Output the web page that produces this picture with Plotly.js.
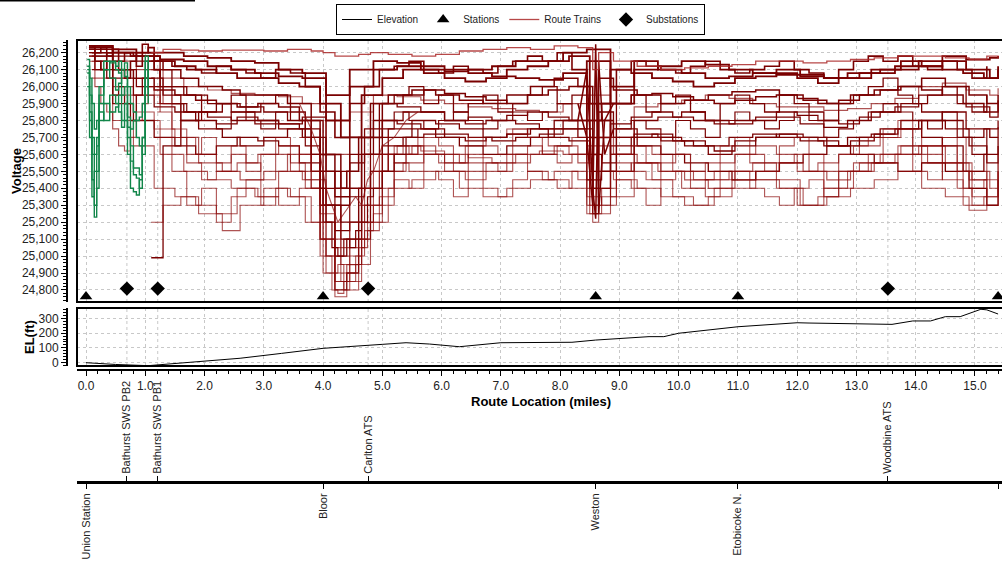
<!DOCTYPE html>
<html>
<head>
<meta charset="utf-8">
<script src="https://cdn.plot.ly/plotly-3.0.1.min.js"></script>
<style>html,body{margin:0;padding:0;background:#fff;}#chart{width:1002px;height:567px;}</style>
</head>
<body>
<div id="chart"></div>
<script>
// ---------- Stations & substations ----------
const stationNames = ["Union Station", "Bloor", "Weston", "Etobicoke N.", "Airport Platform"];
const stationMiles = [0.0, 4.0, 8.6, 11.0, 15.39];
const stationMarkerV = [24762, 24762, 24762, 24762, 24762];
const substationNames = ["Bathurst SWS PB2", "Bathurst SWS PB1", "Carlton ATS", "Woodbine ATS"];
const substationMiles = [0.69, 1.21, 4.76, 13.53];
const substationMarkerV = [24808, 24808, 24808, 24808];

// ---------- Elevation profile ----------
const elevMiles = [0, 0.5, 1.05, 1.3, 2.2, 2.6, 3.3, 3.6, 4.0, 5.0, 5.4, 5.8, 6.3, 7.0, 8.2, 8.6, 9.5, 9.75, 10.0, 11.0, 12.0, 12.2, 13.6, 13.95, 14.25, 14.5, 14.75, 15.1, 15.2, 15.39];
const elevFt    = [0, -12, -20, -12, 13, 30, 63, 79, 97, 124, 135, 126, 108, 135, 138, 153, 176, 176, 199, 243, 270, 268, 259, 282, 282, 311, 311, 361, 357, 329];

// ---------- Route train voltage traces ----------
const gridA = [0.05,0.45,0.85,1.25,1.65,2.05,2.45,2.85,3.25,3.65,4.05,4.45,4.85,5.25,5.65,6.05,6.45,6.85,7.25,7.65,8.05,8.45,8.85,9.25,9.65,10.05,10.45,10.85,11.25,11.65,12.05,12.45,12.85,13.25,13.65,14.05,14.45,14.85,15.25,15.39];
const trainR1 = [26230,26200,26180,26160,26150,26120,26100,26080,26060,26050,25950,26100,26150,26140,26120,26100,26080,26060,26050,26040,26080,26150,26000,26100,26120,26150,26130,26100,26080,26070,26060,26050,26080,26100,26120,26150,26180,26160,26170,26180];
const trainR2 = [26200,26150,26100,26050,26000,25980,25960,25950,25940,25900,25600,25850,25950,25940,25920,25900,25880,25870,25860,25850,25900,25950,25700,25880,25900,25920,25950,25930,25900,25880,25880,25860,25870,25900,25930,26000,26020,25980,25950,25990];
const trainR3 = [26180,26100,26000,25900,25850,25820,25800,25780,25750,25700,25300,25600,25800,25780,25750,25720,25700,25680,25700,25720,25750,25800,25500,25720,25700,25680,25650,25700,25720,25700,25680,25650,25700,25720,25750,25800,25850,25750,25700,25760];
const trainR4 = [26150,25950,25800,25600,25500,25450,25400,25350,25500,25450,25000,25200,25600,25650,25620,25600,25580,25550,25600,25620,25600,25650,25350,25550,25500,25400,25450,25500,25550,25450,25300,25400,25500,25550,25600,25650,25700,25500,25400,25550];
const trainR5 = [26220,26180,26150,26000,25950,25900,25850,25800,25780,25820,25500,25700,25900,25880,25850,25800,25820,25800,25780,25750,25800,25900,25600,25800,25820,25850,25800,25780,25800,25820,25780,25760,25800,25850,25880,25950,26000,25880,25820,25900];
const trainR6 = [26240,26220,26200,26200,26180,26170,26150,26140,26100,26080,25800,26000,26100,26120,26100,26090,26100,26120,26150,26150,26200,26220,25900,26150,26100,26080,26050,26060,26080,26100,26070,26050,26050,26080,26100,26120,26150,26100,26050,26120];

const gridB = [0.1,0.45,0.8,1.15,1.5,1.85,2.2,2.55,2.9,3.25,3.6,3.95,4.3,4.65,5.0,5.35,5.7,6.05,6.4,6.75,7.1,7.45,7.8,8.15,8.5,8.85,9.2,9.55,9.9,10.25,10.6,10.95,11.3,11.65,12.0,12.35,12.7,13.05,13.4,13.75,14.1,14.45,14.8,15.15,15.39];
const trainR7 = [26100,25900,25800,25700,25650,25600,25650,25700,25680,25650,25550,25300,25100,25400,25650,25700,25720,25700,25680,25700,25720,25750,25700,25680,25400,25650,25700,25720,25680,25650,25620,25680,25700,25720,25700,25680,25650,25700,25750,25800,25700,25650,25500,25600,25650];
const trainR8 = [26050,25800,25650,25400,25350,25300,25250,25400,25350,25300,25400,25100,24850,25200,25500,25550,25600,25500,25450,25550,25600,25500,25450,25400,25250,25500,25550,25450,25350,25300,25400,25500,25450,25400,25300,25350,25500,25550,25600,25650,25550,25450,25300,25350,25500];
const trainR9 = [26200,26100,26050,25980,25950,25920,25900,25880,25900,25880,25800,25600,25400,25700,25900,25950,25980,25960,25940,25920,25900,25950,25980,26000,25700,25900,25950,25960,25940,25920,25900,25920,25940,25950,25930,25900,25920,25950,25980,26000,25980,25950,25900,25850,25920];
const trainR10 = [26240,26200,26180,26150,26120,26100,26080,26050,26050,26020,26000,25900,25700,25950,26050,26100,26080,26050,26030,26050,26100,26120,26150,26180,25900,26100,26080,26050,26030,26000,26020,26050,26060,26080,26050,26020,26050,26080,26100,26150,26120,26100,26080,26050,26100];
const trainR11 = [26150,26000,25850,25750,25700,25600,25500,25550,25600,25650,25500,25200,24950,25300,25600,25650,25600,25550,25650,25700,25750,25700,25650,25600,25300,25600,25650,25600,25500,25450,25500,25600,25650,25600,25500,25550,25600,25650,25700,25750,25650,25550,25400,25450,25600];
const trainR12 = [26180,26050,25950,25880,25850,25800,25780,25820,25800,25780,25750,25500,25200,25600,25800,25850,25850,25800,25780,25800,25830,25850,25820,25800,25500,25780,25820,25850,25820,25800,25780,25800,25820,25850,25830,25800,25780,25820,25850,25900,25850,25800,25700,25750,25800];

const gridC = [1.1,1.3,1.6,1.9,2.3,2.6,3.0,3.4,3.8,4.0,4.2,4.4,4.6,4.8,5.1,5.5,5.9,6.3,6.7,7.1,7.5,7.9,8.3,8.55,8.65,8.9,9.3,9.7,10.1,10.5,10.9,11.3,11.7,12.1,12.5,12.9,13.3,13.7,14.1,14.5,14.9,15.2,15.39];
const trainR13 = [24990,25650,25800,25850,25900,25880,25850,25800,25600,25200,24800,24900,25100,25500,25700,25750,25700,25650,25600,25650,25700,25750,25700,25250,25800,25700,25650,25600,25550,25500,25450,25500,25550,25600,25650,25600,25550,25500,25550,25500,25400,25300,25450];
const trainR14 = [25200,25300,25350,25250,25150,25300,25400,25350,25200,24900,24760,24800,24950,25200,25400,25450,25500,25400,25350,25400,25450,25500,25450,25200,25500,25450,25400,25350,25300,25350,25400,25450,25400,25300,25350,25400,25450,25500,25400,25350,25270,25300,25400];
const trainR15 = [26200,26220,26215,26210,26215,26215,26210,26220,26210,26200,26180,26180,26190,26200,26190,26180,26190,26210,26220,26230,26220,26240,26230,26100,26200,26150,26120,26100,26110,26120,26130,26150,26150,26140,26150,26160,26170,26180,26180,26170,26160,26180,26170];
const trainR16 = [26100,25900,25700,25550,25500,25450,25500,25600,25400,25100,24850,24950,25300,25500,25600,25650,25600,25550,25500,25550,25600,25650,25550,25300,25700,25600,25550,25500,25450,25400,25450,25500,25550,25500,25450,25500,25550,25600,25650,25550,25450,25350,25500];
const trainR17 = [26150,26100,26050,26000,25980,25950,25950,25900,25800,25600,25400,25500,25700,25900,25950,25980,25950,25920,25900,25950,26000,26050,26000,25600,26050,25980,25950,25900,25920,25950,25970,25980,25950,25920,25900,25950,25980,26000,26050,26000,25950,25900,25950];
const trainR18 = [26050,25950,25800,25750,25700,25650,25700,25750,25500,25300,25000,25100,25400,25700,25750,25800,25780,25750,25700,25720,25750,25800,25750,25400,25850,25750,25700,25680,25650,25600,25650,25700,25720,25700,25650,25680,25720,25750,25800,25750,25650,25550,25700];

const gridF = [1.2,1.45,1.7,1.95,2.2,2.45,2.7,2.95,3.2,3.45,3.7,3.95,4.2,4.45,4.7,4.95,5.2,5.45,5.7,5.95,6.2,6.45,6.7,6.95,7.2,7.45,7.7,7.95,8.2,8.45,8.7,8.95,9.2,9.45,9.7,9.95,10.2,10.45,10.7,10.95,11.2,11.45,11.7,11.95,12.2,12.45,12.7,12.95,13.2,13.45,13.7,13.95,14.2,14.45,14.7,14.95,15.2];
const trainF1 = [25900,25750,25600,25700,25550,25650,25500,25600,25700,25550,25400,25100,24900,25050,25300,25500,25650,25600,25700,25650,25550,25700,25650,25600,25750,25700,25600,25650,25700,25350,25300,25600,25650,25550,25700,25600,25500,25550,25650,25700,25600,25550,25650,25700,25600,25500,25600,25650,25700,25750,25800,25650,25600,25700,25550,25450,25600];
const trainF2 = [26100,26000,25950,25850,25900,25950,25850,25900,25950,25850,25700,25500,25350,25550,25750,25900,25950,26000,25900,25950,25850,25900,25950,25850,25900,25950,26000,25900,25950,25600,25500,25900,25950,25850,25900,25950,25850,25800,25900,25950,25900,25850,25950,25900,25850,25800,25900,25950,26000,26050,25950,25900,25950,26000,25900,25850,25950];
const trainF3 = [25700,25500,25300,25400,25200,25350,25450,25300,25400,25350,25200,25000,24850,25000,25150,25350,25450,25400,25500,25450,25350,25500,25400,25350,25450,25500,25450,25400,25500,25250,25350,25450,25400,25300,25450,25500,25400,25350,25450,25500,25400,25350,25300,25400,25450,25350,25400,25500,25550,25600,25650,25500,25450,25550,25400,25300,25350];
const trainF4 = [26150,26120,26100,26080,26120,26100,26080,26050,26100,26080,26000,25850,25700,25900,26000,26100,26120,26150,26100,26080,26120,26100,26080,26120,26150,26180,26150,26200,26100,25800,25900,26100,26150,26120,26100,26080,26120,26150,26100,26080,26100,26120,26150,26100,26080,26050,26100,26150,26180,26150,26180,26120,26100,26150,26100,26050,26120];
const trainF5 = [26000,25900,25850,25800,25750,25850,25800,25750,25850,25800,25650,25400,25150,25350,25600,25750,25850,25800,25750,25800,25850,25800,25750,25800,25850,25800,25850,25900,25800,25450,25550,25750,25800,25750,25700,25800,25750,25700,25800,25850,25800,25750,25800,25850,25800,25700,25750,25800,25850,25900,25850,25800,25750,25850,25700,25600,25750];
const trainF6 = [25850,25700,25550,25450,25500,25600,25550,25450,25600,25500,25450,25250,25050,25200,25400,25600,25550,25500,25600,25550,25500,25600,25550,25500,25600,25650,25600,25550,25600,25300,25400,25550,25500,25450,25550,25600,25500,25450,25550,25600,25550,25500,25550,25600,25500,25400,25500,25550,25600,25700,25750,25600,25550,25650,25500,25350,25500];

const gridH = [0.05,0.15,0.25,0.35,0.45,0.55,0.65,0.75,0.85,0.95,1.05,1.15,1.25];
const earlyH1 = [26240,26200,26230,26180,26220,26150,26200,26180,26120,26200,26230,26180,26150];
const earlyH2 = [26200,26100,26150,26050,25950,26000,25900,25800,25950,26050,26150,26100,26000];
const earlyH3 = [26180,26000,25900,25850,25750,25650,25620,25700,25800,25900,26000,25950,25850];
const earlyH4 = [26230,26150,26100,26200,26150,26100,26050,26150,26200,26250,26200,26100,26050];

const gridD = [3.6,3.8,3.95,4.05,4.15,4.25,4.35,4.45,4.55,4.65,4.75,4.85,5.0,5.2,5.4,5.6];
const dipD1 = [25700,25500,25300,25000,24800,24780,24850,24900,24950,25100,25200,25250,25300,25500,25600,25700];
const dipD2 = [25600,25400,25100,24900,24900,24950,24800,24850,25000,25050,25150,25300,25400,25550,25600,25650];
const dipD3 = [25800,25600,25400,25200,25050,25000,25100,25050,25150,25200,25350,25400,25500,25600,25700,25750];
const dipD4 = [25900,25750,25600,25400,25300,25200,25250,25300,25350,25300,25450,25500,25650,25700,25800,25850];

const gridE = [8.3,8.45,8.55,8.6,8.65,8.75,8.9];
const spikeE1 = [25900,25700,25300,26250,25250,25800,25900];
const spikeE2 = [25800,26100,25400,25220,26150,25600,25750];

// ---------- Green (early) train traces ----------
const gridG = [0.02,0.06,0.1,0.14,0.18,0.22,0.3,0.4,0.5,0.55,0.6,0.65,0.7,0.75,0.8,0.85,0.9,0.95,1.0,1.05];
const greenG1 = [26120,25800,25450,25230,25500,25950,26100,26050,25980,26020,26100,26060,25700,25560,25480,25460,25400,25700,26180,26000];
const greenG2 = [26100,25950,25700,25600,25650,25900,26150,26140,26100,26080,25950,26000,25820,25750,25800,25700,25650,25600,26100,25980];
const greenG3 = [26080,25850,25600,25300,25400,25800,25900,25850,25880,25950,25800,25900,25600,25400,25380,25360,25450,25700,26050,25950];
const greenG4 = [26000,25700,25350,25500,25700,25850,25800,25950,25900,25850,25760,25800,25760,25650,25520,25520,25480,25650,26000,25900];
const greenG5 = [26160,26050,25900,25750,25800,26000,26100,26150,26120,26150,26100,26140,26000,25900,25850,25800,25820,25900,26150,26050];

// ---------- Build traces ----------
const FONT = "Arial, 'Liberation Sans', sans-serif";
const DARK = "#7a0000";
const LIGHT = "rgba(140,10,10,0.7)";
const redSets = [
  [gridA, trainR1, DARK, 1.8, 'hv'], [gridA, trainR2, LIGHT, 1.2, 'hv'], [gridA, trainR3, DARK, 1.3, 'hv'],
  [gridA, trainR4, LIGHT, 1.1, 'hv'], [gridA, trainR5, DARK, 1.3, 'hv'], [gridA, trainR6, DARK, 1.8, 'hv'],
  [gridB, trainR7, DARK, 1.3, 'hv'], [gridB, trainR8, LIGHT, 1.1, 'hv'], [gridB, trainR9, DARK, 1.5, 'hv'],
  [gridB, trainR10, DARK, 1.8, 'hv'], [gridB, trainR11, LIGHT, 1.1, 'hv'], [gridB, trainR12, DARK, 1.3, 'hv'],
  [gridC, trainR13, DARK, 1.3, 'hv'], [gridC, trainR14, LIGHT, 1.1, 'hv'], [gridC, trainR16, LIGHT, 1.2, 'hv'],
  [gridC, trainR17, DARK, 1.5, 'hv'], [gridC, trainR18, DARK, 1.3, 'hv'],
  [gridF, trainF1, LIGHT, 1.1, 'hv'], [gridF, trainF2, DARK, 1.3, 'hv'], [gridF, trainF3, LIGHT, 1.1, 'hv'],
  [gridF, trainF4, DARK, 1.6, 'hv'], [gridF, trainF5, DARK, 1.2, 'hv'], [gridF, trainF6, LIGHT, 1.1, 'hv'],
  [gridH, earlyH1, DARK, 1.6, 'hv'], [gridH, earlyH2, DARK, 1.3, 'hv'], [gridH, earlyH3, LIGHT, 1.2, 'hv'], [gridH, earlyH4, DARK, 1.6, 'hv'],
  [gridD, dipD1, LIGHT, 1.1, 'hv'], [gridD, dipD2, LIGHT, 1.1, 'hv'], [gridD, dipD3, DARK, 1.2, 'hv'], [gridD, dipD4, LIGHT, 1.1, 'linear'],
  [gridE, spikeE1, DARK, 1.5, 'linear'], [gridE, spikeE2, DARK, 1.5, 'linear']
];
const traces = [];
redSets.forEach(s => traces.push({
  type: 'scatter', mode: 'lines', x: s[0], y: s[1], xaxis: 'x', yaxis: 'y',
  line: {color: s[2], width: s[3], shape: s[4]}, showlegend: false, hoverinfo: 'skip'
}));
traces.push({
  type: 'scatter', mode: 'lines', x: gridC, y: trainR15, xaxis: 'x', yaxis: 'y', name: 'Route Trains',
  line: {color: 'rgba(170,40,40,0.85)', width: 1.3, shape: 'hv'}, showlegend: true, legendrank: 3, hoverinfo: 'skip'
});
[greenG1, greenG2, greenG3, greenG4, greenG5].forEach(g => traces.push({
  type: 'scatter', mode: 'lines', x: gridG, y: g, xaxis: 'x', yaxis: 'y',
  line: {color: '#12864a', width: 1.4, shape: 'hv'}, showlegend: false, hoverinfo: 'skip'
}));
traces.push({
  type: 'scatter', mode: 'lines', x: elevMiles, y: elevFt, xaxis: 'x2', yaxis: 'y2', name: 'Elevation',
  line: {color: '#000', width: 1}, showlegend: true, legendrank: 1, hoverinfo: 'skip'
});
traces.push({
  type: 'scatter', mode: 'markers', x: stationMiles, y: stationMarkerV, xaxis: 'x3', yaxis: 'y', name: 'Stations',
  marker: {symbol: 'triangle-up', size: 11, color: '#000'}, showlegend: true, legendrank: 2, hoverinfo: 'skip'
});
traces.push({
  type: 'scatter', mode: 'markers', x: substationMiles, y: substationMarkerV, xaxis: 'x4', yaxis: 'y', name: 'Substations',
  marker: {symbol: 'diamond', size: 11, color: '#000'}, showlegend: true, legendrank: 4, hoverinfo: 'skip'
});

// ---------- Layout ----------
const W = 1002, H = 567;
const px = v => v / W;
const py = v => 1 - v / H;
const XR = [-0.152, 15.456];
const xDom = [px(77), 1];
const gridStyle = {showgrid: true, gridcolor: '#c8c8c8', griddash: 'dot', gridwidth: 1};

const subGrid = [];
substationMiles.forEach(m => {
  [[py(302), py(40)], [py(366), py(308)]].forEach(r => {
    subGrid.push({type: 'line', xref: 'x', yref: 'paper', x0: m, x1: m, y0: r[0], y1: r[1],
      line: {color: '#c8c8c8', width: 1, dash: 'dot'}, layer: 'below'});
  });
});

const layout = {
  width: W, height: H,
  margin: {l: 0, r: 0, t: 0, b: 0},
  paper_bgcolor: '#fff', plot_bgcolor: '#fff',
  font: {family: FONT, size: 12, color: '#222'},
  showlegend: true,
  legend: {orientation: 'h', x: px(336), xanchor: 'left', y: py(4), yanchor: 'top',
    bordercolor: '#000', borderwidth: 1, bgcolor: '#fff', font: {family: FONT, size: 10, color: '#222'},
    itemwidth: 30, tracegroupgap: 0},
  xaxis: Object.assign({domain: xDom, range: XR, anchor: 'y', showticklabels: false, ticks: '',
    zeroline: false, showline: false, dtick: 1, tick0: 0}, gridStyle),
  yaxis: Object.assign({domain: [py(302), py(40)], range: [24729, 26275], anchor: 'free', position: px(67),
    tickvals: [24800,24900,25000,25100,25200,25300,25400,25500,25600,25700,25800,25900,26000,26100,26200],
    tickformat: ',d', ticks: 'outside', ticklen: 5, tickwidth: 1, tickcolor: '#000',
    minor: {dtick: 20, ticks: 'outside', ticklen: 3, tickcolor: '#000', showgrid: false},
    showline: true, linecolor: '#000', linewidth: 2, zeroline: false,
    tickfont: {family: FONT, size: 12, color: '#222'}}, gridStyle),
  xaxis2: Object.assign({domain: xDom, range: XR, anchor: 'free', position: py(370), dtick: 1, tick0: 0,
    tickformat: '.1f', ticks: 'outside', ticklen: 5, tickcolor: '#000', showline: true, linecolor: '#000', linewidth: 2,
    minor: {dtick: 0.2, ticks: 'outside', ticklen: 3, tickcolor: '#000', showgrid: false},
    zeroline: false, tickfont: {family: FONT, size: 12, color: '#222'}}, gridStyle),
  yaxis2: Object.assign({domain: [py(366), py(308)], range: [-22.3, 369.6], anchor: 'free', position: px(67),
    tickvals: [0,100,200,300], ticks: 'outside', ticklen: 5, tickcolor: '#000',
    minor: {dtick: 20, ticks: 'outside', ticklen: 3, tickcolor: '#000', showgrid: false},
    showline: true, linecolor: '#000', linewidth: 2, zeroline: false,
    tickfont: {family: FONT, size: 12, color: '#222'}}, gridStyle),
  xaxis3: {overlaying: 'x', anchor: 'free', position: py(482), side: 'bottom', range: XR,
    tickvals: stationMiles, ticktext: stationNames, tickangle: -90, ticks: 'outside', ticklen: 5, tickcolor: '#000',
    showline: true, linecolor: '#000', linewidth: 3, showgrid: false, zeroline: false,
    tickfont: {family: FONT, size: 11, color: '#222'}},
  xaxis4: {overlaying: 'x', anchor: 'free', position: py(482), side: 'top', range: XR,
    tickvals: substationMiles, ticktext: substationNames, tickangle: -90, ticks: 'outside', ticklen: 5, tickcolor: '#000',
    showline: true, linecolor: '#000', linewidth: 3, showgrid: false, zeroline: false,
    tickfont: {family: FONT, size: 11, color: '#222'}},
  shapes: subGrid.concat([
    {type: 'rect', xref: 'paper', yref: 'paper', x0: px(77), x1: 1.01, y0: py(302), y1: py(40), line: {color: '#000', width: 2}},
    {type: 'rect', xref: 'paper', yref: 'paper', x0: px(77), x1: 1.01, y0: py(366), y1: py(308), line: {color: '#000', width: 2}},
    {type: 'line', xref: 'paper', yref: 'paper', x0: 0, x1: px(195), y0: py(0.8), y1: py(0.8), line: {color: '#000', width: 1.5}}
  ]),
  annotations: [
    {text: '<b>Voltage</b>', xref: 'paper', yref: 'paper', x: px(16), y: py(171), xanchor: 'center', yanchor: 'middle',
      textangle: -90, showarrow: false, font: {family: FONT, size: 13, color: '#000'}},
    {text: '<b>EL(ft)</b>', xref: 'paper', yref: 'paper', x: px(29), y: py(337), xanchor: 'center', yanchor: 'middle',
      textangle: -90, showarrow: false, font: {family: FONT, size: 13, color: '#000'}},
    {text: '<b>Route Location (miles)</b>', xref: 'paper', yref: 'paper', x: px(541), y: py(401), xanchor: 'center', yanchor: 'middle',
      showarrow: false, font: {family: FONT, size: 13, color: '#000'}}
  ]
};

Plotly.newPlot('chart', traces, layout, {displayModeBar: false, staticPlot: true});
</script>
</body>
</html>
